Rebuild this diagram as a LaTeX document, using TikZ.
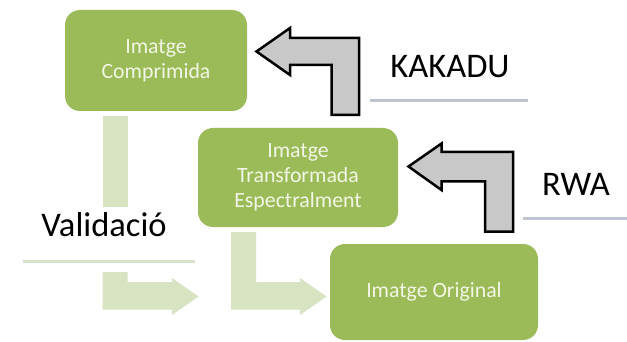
\documentclass[tikz,border=0pt]{standalone}
\usepackage{fontspec}
\setmainfont{Carlito}
\definecolor{boxgreen}{RGB}{155,187,89}
\definecolor{palegreen}{RGB}{215,227,193}
\definecolor{boxtext}{RGB}{242,246,228}
\definecolor{arrowgray}{RGB}{200,200,200}
\definecolor{linegray}{RGB}{190,195,208}
\definecolor{linegreen}{RGB}{216,226,200}
\begin{document}
\begin{tikzpicture}[x=1pt,y=-1pt,
  box/.style={draw=none, fill=boxgreen, rounded corners=15pt, text=boxtext, align=center, font=\fontsize{21.8}{25}\selectfont, inner sep=0pt},
  lbl/.style={font=\fontsize{34.5}{40}\selectfont, anchor=base, inner sep=0pt},
  grayarrow/.style={fill=arrowgray, draw=black, line width=2.5pt, line join=miter},
  palearrow/.style={fill=palegreen, draw=none},
  rulegray/.style={draw=linegray, line width=3pt},
  rulegreen/.style={draw=linegreen, line width=3pt}]
\useasboundingbox (0,0) rectangle (627,342);
% pale green flow arrows
\fill[palearrow] (102.5,116) rectangle (127.5,207);
\fill[palearrow] (102.5,272) -- (127.5,272) -- (127.5,282) -- (172,282) -- (172,278) -- (198.5,296.5) -- (172,315) -- (172,309.5) -- (102.5,309.5) -- cycle;
\fill[palearrow] (231,232) -- (256,232) -- (256,282) -- (300,282) -- (300,278) -- (326.5,296.5) -- (300,315) -- (300,309.5) -- (231,309.5) -- cycle;
% boxes
\node[box, minimum width=182pt, minimum height=101pt] (comp) at (156,60.5) {Imatge\\Comprimida};
\node[box, minimum width=200pt, minimum height=99pt] (trans) at (298,177.5) {Imatge\\Transformada\\Espectralment};
\node[box, minimum width=208pt, minimum height=96pt] (orig) at (434,292) {Imatge Original};
% gray bent arrows
\draw[grayarrow] (256.5,51.5) -- (290,28) -- (290,38) -- (359,38) -- (359,115) -- (331.5,115) -- (331.5,65) -- (290,65) -- (290,75) -- cycle;
\draw[grayarrow] (408.5,166.5) -- (441.5,143.5) -- (441.5,152) -- (513,152) -- (513,231.5) -- (485,231.5) -- (485,181.5) -- (441.5,181.5) -- (441.5,190) -- cycle;
% labels and rules
\node[lbl] (kakadu) at (450,77.3) {KAKADU};
\node[lbl] (rwa) at (576,196) {RWA};
\node[lbl] (valid) at (104,236.7) {Validació};
\coordinate (k1) at (370,101); \coordinate (k2) at (528,101);
\coordinate (r1) at (523,219); \coordinate (r2) at (627,219);
\coordinate (v1) at (23,261); \coordinate (v2) at (195,261);
\draw[rulegray] (k1) -- (k2);
\draw[rulegray] (r1) -- (r2);
\draw[rulegreen] (v1) -- (v2);
\end{tikzpicture}
\end{document}
